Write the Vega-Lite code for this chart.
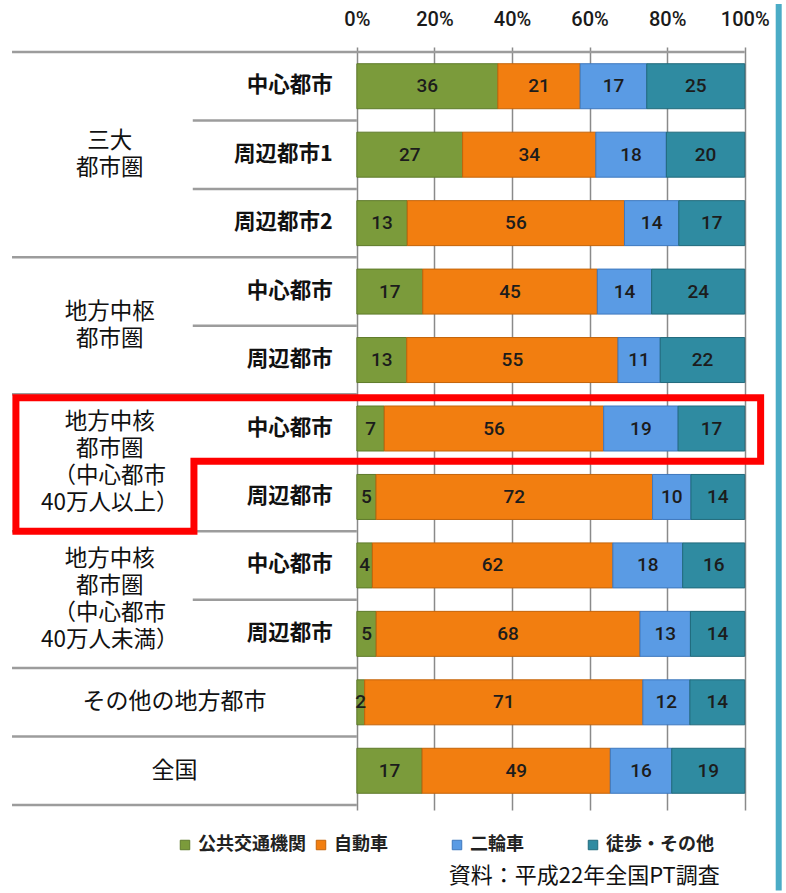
{
  "$schema": "https://vega.github.io/schema/vega-lite/v6.json",
  "width": 768,
  "height": 763,
  "autosize": {"type": "none"},
  "padding": {"left": 0, "top": 47, "right": 18, "bottom": 83},
  "background": "white",
  "config": {"view": {"stroke": null}, "font": "Noto Sans CJK JP"},
  "datasets": {
    "bars": [
      {"id": 1, "mode": "公共交通機関", "k": 1, "v": 36}, {"id": 1, "mode": "自動車", "k": 2, "v": 21}, {"id": 1, "mode": "二輪車", "k": 3, "v": 17}, {"id": 1, "mode": "徒歩・その他", "k": 4, "v": 25},
      {"id": 2, "mode": "公共交通機関", "k": 1, "v": 27}, {"id": 2, "mode": "自動車", "k": 2, "v": 34}, {"id": 2, "mode": "二輪車", "k": 3, "v": 18}, {"id": 2, "mode": "徒歩・その他", "k": 4, "v": 20},
      {"id": 3, "mode": "公共交通機関", "k": 1, "v": 13}, {"id": 3, "mode": "自動車", "k": 2, "v": 56}, {"id": 3, "mode": "二輪車", "k": 3, "v": 14}, {"id": 3, "mode": "徒歩・その他", "k": 4, "v": 17},
      {"id": 4, "mode": "公共交通機関", "k": 1, "v": 17}, {"id": 4, "mode": "自動車", "k": 2, "v": 45}, {"id": 4, "mode": "二輪車", "k": 3, "v": 14}, {"id": 4, "mode": "徒歩・その他", "k": 4, "v": 24},
      {"id": 5, "mode": "公共交通機関", "k": 1, "v": 13}, {"id": 5, "mode": "自動車", "k": 2, "v": 55}, {"id": 5, "mode": "二輪車", "k": 3, "v": 11}, {"id": 5, "mode": "徒歩・その他", "k": 4, "v": 22},
      {"id": 6, "mode": "公共交通機関", "k": 1, "v": 7}, {"id": 6, "mode": "自動車", "k": 2, "v": 56}, {"id": 6, "mode": "二輪車", "k": 3, "v": 19}, {"id": 6, "mode": "徒歩・その他", "k": 4, "v": 17},
      {"id": 7, "mode": "公共交通機関", "k": 1, "v": 5}, {"id": 7, "mode": "自動車", "k": 2, "v": 72}, {"id": 7, "mode": "二輪車", "k": 3, "v": 10}, {"id": 7, "mode": "徒歩・その他", "k": 4, "v": 14},
      {"id": 8, "mode": "公共交通機関", "k": 1, "v": 4}, {"id": 8, "mode": "自動車", "k": 2, "v": 62}, {"id": 8, "mode": "二輪車", "k": 3, "v": 18}, {"id": 8, "mode": "徒歩・その他", "k": 4, "v": 16},
      {"id": 9, "mode": "公共交通機関", "k": 1, "v": 5}, {"id": 9, "mode": "自動車", "k": 2, "v": 68}, {"id": 9, "mode": "二輪車", "k": 3, "v": 13}, {"id": 9, "mode": "徒歩・その他", "k": 4, "v": 14},
      {"id": 10, "mode": "公共交通機関", "k": 1, "v": 2}, {"id": 10, "mode": "自動車", "k": 2, "v": 71}, {"id": 10, "mode": "二輪車", "k": 3, "v": 12}, {"id": 10, "mode": "徒歩・その他", "k": 4, "v": 14},
      {"id": 11, "mode": "公共交通機関", "k": 1, "v": 17}, {"id": 11, "mode": "自動車", "k": 2, "v": 49}, {"id": 11, "mode": "二輪車", "k": 3, "v": 16}, {"id": 11, "mode": "徒歩・その他", "k": 4, "v": 19}
    ],
    "subs": [
      {"id": 1, "label": "中心都市"}, {"id": 2, "label": "周辺都市1"}, {"id": 3, "label": "周辺都市2"},
      {"id": 4, "label": "中心都市"}, {"id": 5, "label": "周辺都市"},
      {"id": 6, "label": "中心都市"}, {"id": 7, "label": "周辺都市"},
      {"id": 8, "label": "中心都市"}, {"id": 9, "label": "周辺都市"}
    ],
    "groups": [
      {"pos": 2, "label": "三大\n都市圏"},
      {"pos": 4.5, "label": "地方中枢\n都市圏"},
      {"pos": 6.5, "label": "地方中核\n都市圏\n（中心都市\n40万人以上）"},
      {"pos": 8.5, "label": "地方中核\n都市圏\n（中心都市\n40万人未満）"}
    ],
    "wide": [
      {"pos": 10, "label": "その他の地方都市"},
      {"pos": 11, "label": "全国"}
    ],
    "lines": [
      {"pos": 0.5, "kind": "top"}, {"pos": 1.5, "kind": "short"}, {"pos": 2.5, "kind": "short"},
      {"pos": 3.5, "kind": "long"}, {"pos": 4.5, "kind": "short"}, {"pos": 5.5, "kind": "long"},
      {"pos": 6.5, "kind": "short"}, {"pos": 7.5, "kind": "long"}, {"pos": 8.5, "kind": "short"},
      {"pos": 9.5, "kind": "long"}, {"pos": 10.5, "kind": "long"}, {"pos": 11.5, "kind": "long"}
    ],
    "redbox": [
      {"i": 1, "x": -0.879, "y": 5.55}, {"i": 2, "x": 1.041, "y": 5.55}, {"i": 3, "x": 1.041, "y": 6.48},
      {"i": 4, "x": -0.42, "y": 6.48}, {"i": 5, "x": -0.42, "y": 7.5}, {"i": 6, "x": -0.879, "y": 7.5},
      {"i": 7, "x": -0.879, "y": 5.55}
    ],
    "credit": [{"text": "資料：平成22年全国PT調査"}]
  },
  "layer": [
    {
      "data": {"name": "lines"},
      "transform": [{"filter": "datum.kind === 'top'"}],
      "mark": {"type": "rule", "color": "#9c9c9c", "strokeWidth": 2.5},
      "encoding": {
        "y": {"field": "pos", "type": "quantitative", "scale": {"domain": [0.5, 11.5], "reverse": true, "nice": false, "zero": false}, "axis": null},
        "x": {"datum": -0.889, "type": "quantitative", "scale": {"domain": [-0.92, 1.06], "nice": false, "zero": false}},
        "x2": {"datum": 1}
      }
    },
    {
      "data": {"name": "lines"},
      "transform": [{"filter": "datum.kind === 'long'"}],
      "mark": {"type": "rule", "color": "#9c9c9c", "strokeWidth": 2.5},
      "encoding": {
        "y": {"field": "pos", "type": "quantitative", "scale": {"domain": [0.5, 11.5], "reverse": true, "nice": false, "zero": false}, "axis": null},
        "x": {"datum": -0.889, "type": "quantitative", "scale": {"domain": [-0.92, 1.06], "nice": false, "zero": false}},
        "x2": {"datum": 0}
      }
    },
    {
      "data": {"name": "lines"},
      "transform": [{"filter": "datum.kind === 'short'"}],
      "mark": {"type": "rule", "color": "#9c9c9c", "strokeWidth": 2.5},
      "encoding": {
        "y": {"field": "pos", "type": "quantitative", "scale": {"domain": [0.5, 11.5], "reverse": true, "nice": false, "zero": false}, "axis": null},
        "x": {"datum": -0.423, "type": "quantitative", "scale": {"domain": [-0.92, 1.06], "nice": false, "zero": false}},
        "x2": {"datum": 0}
      }
    },
    {
      "data": {"name": "bars"},
      "transform": [
        {"stack": "v", "groupby": ["id"], "sort": [{"field": "k", "order": "ascending"}], "as": ["v0", "v1"], "offset": "normalize"},
        {"calculate": "(datum.v0 + datum.v1) / 2", "as": "mid"}
      ],
      "layer": [
        {
          "mark": {"type": "bar", "orient": "horizontal", "height": 45, "strokeWidth": 1},
          "encoding": {
            "y": {"field": "id", "type": "quantitative", "scale": {"domain": [0.5, 11.5], "reverse": true, "nice": false, "zero": false}, "axis": null},
            "x": {
              "field": "v0", "type": "quantitative",
              "scale": {"domain": [-0.92, 1.06], "nice": false, "zero": false},
              "axis": {"orient": "top", "values": [0, 0.2, 0.4, 0.6, 0.8, 1], "format": ".0%", "domain": false, "ticks": false, "grid": true, "gridColor": "#8a8a8a", "gridWidth": 1.5, "labelFontSize": 20, "labelFont": "Roboto", "labelFontWeight": 500, "labelColor": "#1a1a1a", "labelPadding": 18, "title": null}
            },
            "x2": {"field": "v1"},
            "color": {
              "field": "mode", "type": "nominal",
              "scale": {"domain": ["公共交通機関", "自動車", "二輪車", "徒歩・その他"], "range": ["#7B9B3B", "#F27E10", "#5A9BE4", "#2F8BA1"]},
              "legend": {"orient": "none", "legendX": 176, "legendY": 789, "direction": "horizontal", "columns": 4, "gridAlign": "all", "columnPadding": 6, "symbolType": "square", "symbolSize": 90, "symbolStrokeWidth": 1, "symbolStrokeColor": "#666", "labelFontSize": 18, "labelFontWeight": "bold", "labelFont": "Noto Sans CJK JP", "labelColor": "#222", "labelOffset": 4, "labelLimit": 300, "title": null}
            },
            "stroke": {
              "field": "mode", "type": "nominal",
              "scale": {"domain": ["公共交通機関", "自動車", "二輪車", "徒歩・その他"], "range": ["#5E7A2A", "#C4640A", "#3E78BE", "#206A7C"]},
              "legend": null
            }
          }
        },
        {
          "mark": {"type": "text", "fontSize": 19, "font": "Roboto", "fontWeight": 500, "color": "#1c1c1c", "baseline": "middle", "align": "center"},
          "encoding": {
            "y": {"field": "id", "type": "quantitative", "scale": {"domain": [0.5, 11.5], "reverse": true, "nice": false, "zero": false}, "axis": null},
            "x": {"field": "mid", "type": "quantitative", "scale": {"domain": [-0.92, 1.06], "nice": false, "zero": false}},
            "text": {"field": "v", "type": "quantitative"}
          }
        }
      ]
    },
    {
      "data": {"name": "subs"},
      "mark": {"type": "text", "align": "right", "baseline": "middle", "fontSize": 21.5, "fontWeight": "bold", "color": "#111"},
      "encoding": {
        "y": {"field": "id", "type": "quantitative", "scale": {"domain": [0.5, 11.5], "reverse": true, "nice": false, "zero": false}, "axis": null},
        "x": {"datum": -0.062, "type": "quantitative", "scale": {"domain": [-0.92, 1.06], "nice": false, "zero": false}},
        "text": {"field": "label"}
      }
    },
    {
      "data": {"name": "groups"},
      "transform": [{"filter": "length(datum.label) < 10"}],
      "mark": {"type": "text", "align": "center", "baseline": "middle", "fontSize": 22.5, "lineHeight": 27, "lineBreak": "\n", "dy": -13.5, "color": "#111"},
      "encoding": {
        "y": {"field": "pos", "type": "quantitative", "scale": {"domain": [0.5, 11.5], "reverse": true, "nice": false, "zero": false}, "axis": null},
        "x": {"datum": -0.637, "type": "quantitative", "scale": {"domain": [-0.92, 1.06], "nice": false, "zero": false}},
        "text": {"field": "label"}
      }
    },
    {
      "data": {"name": "groups"},
      "transform": [{"filter": "length(datum.label) >= 10"}],
      "mark": {"type": "text", "align": "center", "baseline": "middle", "fontSize": 22.5, "lineHeight": 27, "lineBreak": "\n", "dy": -40.5, "color": "#111"},
      "encoding": {
        "y": {"field": "pos", "type": "quantitative", "scale": {"domain": [0.5, 11.5], "reverse": true, "nice": false, "zero": false}, "axis": null},
        "x": {"datum": -0.637, "type": "quantitative", "scale": {"domain": [-0.92, 1.06], "nice": false, "zero": false}},
        "text": {"field": "label"}
      }
    },
    {
      "data": {"name": "wide"},
      "mark": {"type": "text", "align": "center", "baseline": "middle", "fontSize": 23, "color": "#111"},
      "encoding": {
        "y": {"field": "pos", "type": "quantitative", "scale": {"domain": [0.5, 11.5], "reverse": true, "nice": false, "zero": false}, "axis": null},
        "x": {"datum": -0.47, "type": "quantitative", "scale": {"domain": [-0.92, 1.06], "nice": false, "zero": false}},
        "text": {"field": "label"}
      }
    },
    {
      "data": {"name": "credit"},
      "mark": {"type": "text", "align": "right", "baseline": "middle", "fontSize": 22, "color": "#111"},
      "encoding": {
        "y": {"datum": 12.54, "type": "quantitative", "scale": {"domain": [0.5, 11.5], "reverse": true, "nice": false, "zero": false}, "axis": null},
        "x": {"datum": 0.9356, "type": "quantitative", "scale": {"domain": [-0.92, 1.06], "nice": false, "zero": false}},
        "text": {"field": "text"}
      }
    },
    {
      "data": {"name": "redbox"},
      "mark": {"type": "line", "color": "#FF0000", "strokeWidth": 7, "strokeJoin": "miter", "strokeCap": "square"},
      "encoding": {
        "y": {"field": "y", "type": "quantitative", "scale": {"domain": [0.5, 11.5], "reverse": true, "nice": false, "zero": false}, "axis": null},
        "x": {"field": "x", "type": "quantitative", "scale": {"domain": [-0.92, 1.06], "nice": false, "zero": false}},
        "order": {"field": "i", "type": "quantitative"}
      }
    },
    {
      "data": {"values": [{}]},
      "mark": {"type": "rule", "color": "#4BACC6", "strokeWidth": 6},
      "encoding": {
        "x": {"datum": 1.0876, "type": "quantitative", "scale": {"domain": [-0.92, 1.06], "nice": false, "zero": false}},
        "y": {"datum": -0.2, "type": "quantitative", "scale": {"domain": [0.5, 11.5], "reverse": true, "nice": false, "zero": false}, "axis": null},
        "y2": {"datum": 12.75}
      }
    }
  ]
}
